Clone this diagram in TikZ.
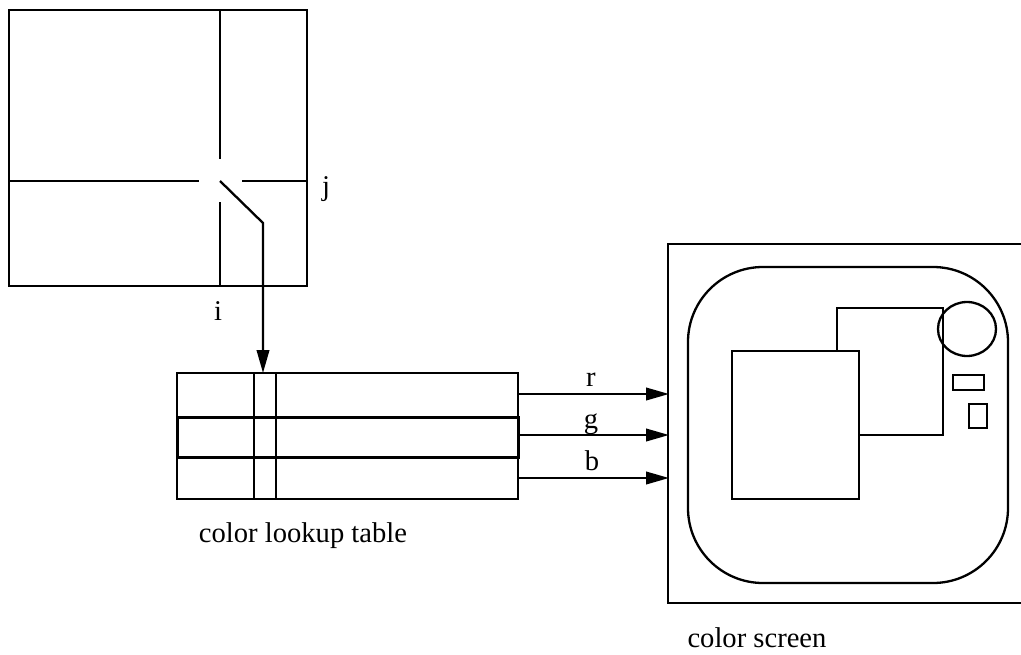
\documentclass[tikz,border=0pt]{standalone}
\usepackage{fontspec}
\setmainfont{Liberation Serif}
\usetikzlibrary{arrows.meta}
\begin{document}
\begin{tikzpicture}[x=1pt,y=-1pt,
  lbl/.style={inner sep=0pt,anchor=base,font=\fontsize{28.6}{34}\selectfont},
  tip/.style={-{Triangle[length=23pt,width=12.5pt]}},
  stroke/.style={draw=black,line width=2.3pt}]
\useasboundingbox (0,0) rectangle (1021,654);

% pixel grid with the picked pixel (i,j)
\draw[stroke] (9,10) rectangle (307,286);
\draw[stroke] (220,10) -- (220,159);
\draw[stroke] (220,202) -- (220,286);
\draw[stroke] (9,181) -- (199,181);
\draw[stroke] (242,181) -- (307,181);
\coordinate (pix) at (220,181);
\coordinate (bend) at (263,223);
\node[lbl] (jlab) at (326,195) {j};
\node[lbl] (ilab) at (218,320) {i};

% colour lookup table
\coordinate (tabNW) at (177,373);
\coordinate (tabSE) at (518,499);
\draw[stroke] (tabNW) rectangle (tabSE);
\draw[stroke,line width=3pt] (177,417) rectangle (518,457);
\draw[stroke] (254,373) -- (254,499);
\draw[stroke] (276,373) -- (276,499);
\coordinate (entry) at (263,373);
\node[lbl] (tablab) at (303,542) {color lookup table};

% index line from the pixel into the table
\draw[stroke,tip] (pix) -- (bend) -- (entry);

% colour screen
\coordinate (scrNW) at (668,244);
\draw[stroke] (1030,244) -- (scrNW) -- (668,603) -- (1030,603);
\draw[stroke,rounded corners=75pt] (688,267) rectangle (1008,583);
\draw[stroke] (837,351) -- (837,308) -- (943,308) -- (943,435) -- (859,435);
\draw[stroke] (732,351) rectangle (859,499);
\draw[stroke] (967,329) ellipse [x radius=29, y radius=27];
\draw[stroke] (953,375) rectangle (984,390);
\draw[stroke] (969,404) rectangle (987,428);
\node[lbl] (scrlab) at (757,647) {color screen};

% r, g, b outputs
\coordinate (rS) at (518,394); \coordinate (rE) at (669,394);
\coordinate (gS) at (518,435); \coordinate (gE) at (669,435);
\coordinate (bS) at (518,478); \coordinate (bE) at (669,478);
\draw[stroke,tip] (rS) -- (rE);
\draw[stroke,tip] (gS) -- (gE);
\draw[stroke,tip] (bS) -- (bE);
\node[lbl] (rlab) at (591,386) {r};
\node[lbl] (glab) at (591,428) {g};
\node[lbl] (blab) at (592,470) {b};
\end{tikzpicture}
\end{document}
